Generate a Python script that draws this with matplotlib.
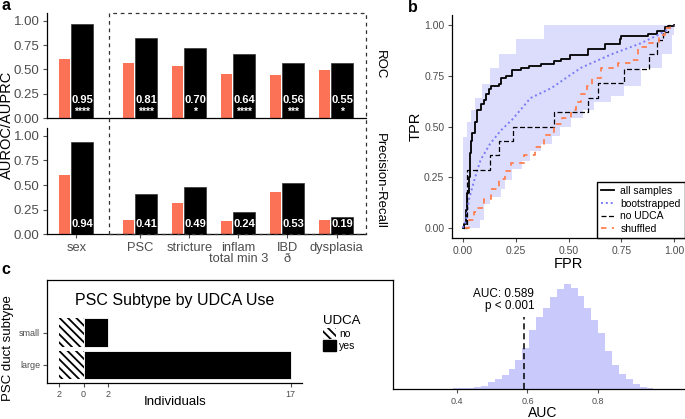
import matplotlib
matplotlib.use('Agg')
import matplotlib.pyplot as plt
import numpy as np
from matplotlib.patches import Rectangle, Patch
from matplotlib.lines import Line2D

plt.rcParams['font.family'] = ['Liberation Sans', 'DejaVu Sans']
plt.rcParams['hatch.linewidth'] = 1.3

# ---------------- data ----------------
# panel a
categories = ['sex', 'PSC', 'stricture', 'inflam\ntotal min 3', 'IBD\nð', 'dysplasia']
cat_pos = [0, 1.3, 2.3, 3.3, 4.3, 5.3]
roc_model = [0.965, 0.825, 0.715, 0.655, 0.57, 0.565]
roc_baseline = [0.605, 0.57, 0.53, 0.45, 0.445, 0.49]
roc_labels = ['0.95', '0.81', '0.70', '0.64', '0.56', '0.55']
roc_stars = ['****', '****', '*', '****', '***', '*']
pr_model = [0.94, 0.41, 0.48, 0.23, 0.525, 0.18]
pr_baseline = [0.60, 0.143, 0.32, 0.135, 0.43, 0.15]
pr_labels = ['0.94', '0.41', '0.49', '0.24', '0.53', '0.19']

# panel b: ROC curves (FPR, TPR)
all_fpr = [0, 0.005, 0.015, 0.02, 0.03, 0.035, 0.04, 0.045, 0.06, 0.07, 0.085, 0.10, 0.11,
           0.125, 0.135, 0.17, 0.18, 0.205, 0.235, 0.275, 0.315, 0.37, 0.43, 0.465, 0.505,
           0.59, 0.67, 0.745, 0.75, 0.875, 0.92, 0.955, 0.97, 1.0]
all_tpr = [0, 0.02, 0.09, 0.17, 0.25, 0.37, 0.43, 0.47, 0.52, 0.58, 0.61, 0.63, 0.66,
           0.685, 0.70, 0.71, 0.74, 0.75, 0.78, 0.79, 0.80, 0.81, 0.825, 0.835, 0.855,
           0.88, 0.905, 0.93, 0.945, 0.955, 0.97, 0.99, 0.995, 1.0]
boot_fpr = [0, 0.015, 0.03, 0.055, 0.085, 0.13, 0.18, 0.235, 0.28, 0.32, 0.42, 0.51, 0.56,
            0.70, 0.84, 0.92, 0.97, 1.0]
boot_tpr = [0, 0.03, 0.14, 0.235, 0.335, 0.415, 0.48, 0.535, 0.59, 0.64, 0.69, 0.755, 0.79,
            0.855, 0.91, 0.95, 0.98, 1.0]
band_up_fpr = [0, 0, 0.02, 0.04, 0.06, 0.09, 0.13, 0.17, 0.25, 0.385, 0.52, 1.0]
band_up_tpr = [0, 0.25, 0.45, 0.52, 0.58, 0.64, 0.71, 0.79, 0.86, 0.93, 1.0, 1.0]
band_lo_fpr = [0, 0.05, 0.08, 0.10, 0.13, 0.18, 0.20, 0.235, 0.28, 0.32, 0.37, 0.42, 0.46,
               0.51, 0.57, 0.62, 0.70, 0.76, 0.84, 0.88, 0.94, 0.99, 1.0]
band_lo_tpr = [0, 0, 0.04, 0.12, 0.15, 0.19, 0.235, 0.29, 0.33, 0.38, 0.415, 0.455, 0.50,
               0.54, 0.58, 0.62, 0.65, 0.70, 0.79, 0.79, 0.86, 0.95, 1.0]
noudca_fpr = [0, 0.02, 0.13, 0.17, 0.24, 0.43, 0.59, 0.64, 0.76, 0.88, 0.92, 0.945, 0.97, 1.0]
noudca_tpr = [0, 0.286, 0.357, 0.429, 0.5, 0.571, 0.643, 0.714, 0.786, 0.857, 0.929, 0.964, 1.0, 1.0]
shuf_fpr = [0.01, 0.03, 0.055, 0.07, 0.10, 0.135, 0.17, 0.20, 0.23, 0.29, 0.34, 0.385, 0.43,
            0.47, 0.51, 0.535, 0.56, 0.585, 0.61, 0.655, 0.735, 0.795, 0.83, 0.875, 0.925,
            0.955, 0.98, 1.0]
shuf_tpr = [0.0, 0.04, 0.08, 0.10, 0.14, 0.19, 0.24, 0.28, 0.32, 0.36, 0.40, 0.46, 0.51,
            0.54, 0.58, 0.62, 0.66, 0.70, 0.74, 0.79, 0.815, 0.83, 0.89, 0.91, 0.95,
            0.985, 0.995, 1.0]

# panel c left: PSC subtype by UDCA use
subtypes = ['large', 'small']
udca_no = [2, 2]
udca_yes = [17, 2]

# panel c right: permutation AUC histogram
auc_bin_left = [0.3710, 0.3905, 0.4100, 0.4295, 0.4490, 0.4685, 0.4880, 0.5075, 0.5270,
                0.5465, 0.5660, 0.5855, 0.6050, 0.6245, 0.6440, 0.6635, 0.6830, 0.7025,
                0.7220, 0.7415, 0.7610, 0.7805, 0.8000, 0.8195, 0.8390, 0.8585, 0.8780,
                0.8975, 0.9170, 0.9365]
auc_counts = [3, 6, 10, 15, 23, 35, 75, 100, 140, 205, 290, 407, 590, 720, 810, 920, 1000,
              1050, 1015, 930, 810, 690, 560, 385, 240, 155, 97, 50, 23, 6]
auc_binwidth = 0.0195
observed_auc = 0.589

# ---------------- figure ----------------
W, H = 685, 419
fig = plt.figure(figsize=(W / 100, H / 100), dpi=100)


def rect(l, t, r, b):
    return [l / W, 1 - b / H, (r - l) / W, (b - t) / H]


def ftext(x, y, s, **kw):
    return fig.text(x / W, 1 - y / H, s, **kw)


GREY = '#4d4d4d'
ORANGE = '#fc7256'


def style(ax, labsize, pad=2.5):
    for s in ['top', 'right']:
        ax.spines[s].set_visible(False)
    for s in ['left', 'bottom']:
        ax.spines[s].set_linewidth(0.9)
    ax.tick_params(colors=GREY, labelcolor=GREY, labelsize=labsize, length=3, width=0.8,
                   pad=pad)


# ---- panel a ----
ax_roc = fig.add_axes(rect(47, 13, 366, 118))
ax_pr = fig.add_axes(rect(47, 128, 366, 234.3))
pos = np.array(cat_pos)
for ax, model, base in [(ax_roc, roc_model, roc_baseline), (ax_pr, pr_model, pr_baseline)]:
    style(ax, 9.5, pad=2.5)
    ax.bar(pos - 0.245, base, width=0.23, color=ORANGE)
    ax.bar(pos + 0.12, model, width=0.45, color='black', edgecolor='#333333', linewidth=0.5)
    ax.set_xlim(-0.6, 5.9)
    ax.set_ylim(0, 1.08)
    ax.set_yticks([0, 0.25, 0.5, 0.75, 1.0])
    ax.set_yticklabels(['0.00', '0.25', '0.50', '0.75', '1.00'])
    ax.set_xticks(cat_pos)
for i, p in enumerate(cat_pos):
    ax_roc.text(p + 0.12, 0.185, roc_labels[i], color='white', fontsize=8, fontweight='bold',
                ha='center', va='center')
    ax_roc.text(p + 0.12, 0.065, roc_stars[i], color='white', fontsize=7.5, fontweight='bold',
                ha='center', va='center')
    ax_pr.text(p + 0.12, 0.10, pr_labels[i], color='white', fontsize=8, fontweight='bold',
               ha='center', va='center')
ax_roc.tick_params(axis='x', length=0, labelbottom=False)
ax_pr.set_xticklabels(categories, fontsize=9.3, linespacing=0.95)

ftext(380, 65, 'ROC', rotation=270, fontsize=9.5, ha='center', va='center')
ftext(380, 181, 'Precision-Recall', rotation=270, fontsize=9.5, ha='center', va='center')
ftext(7, 125, 'AUROC/AUPRC', rotation=90, fontsize=10.5, ha='center', va='center')
fig.patches.append(Rectangle((109 / W, 1 - 234.3 / H), (366 - 109) / W, (234.3 - 13) / H,
                             transform=fig.transFigure, fill=False, linestyle=(0, (3, 3)),
                             linewidth=0.9, edgecolor='#333333'))

# ---- panel b ----
axb = fig.add_axes(rect(452, 15, 685, 238))
style(axb, 7.5)


def step_post(x, y):
    xs, ys = [x[0]], [y[0]]
    for i in range(1, len(x)):
        xs += [x[i], x[i]]
        ys += [y[i - 1], y[i]]
    return xs, ys


def step_pre(x, y):
    xs, ys = [x[0]], [y[0]]
    for i in range(1, len(x)):
        xs += [x[i - 1], x[i]]
        ys += [y[i], y[i]]
    return xs, ys


ux, uy = step_pre(band_up_fpr, band_up_tpr)
lx, ly = step_post(band_lo_fpr, band_lo_tpr)
axb.fill(ux + lx[::-1], uy + ly[::-1], color='#dcdcfd', linewidth=0)
axb.plot(*step_post(all_fpr, all_tpr), color='black', lw=1.3, label='all samples')
axb.plot(boot_fpr, boot_tpr, color='#7b7bf5', lw=1.4, linestyle=(0, (1, 1.5)), label='bootstrapped')
axb.plot(*step_post(noudca_fpr, noudca_tpr), color='black', lw=0.9, linestyle=(0, (4, 2)),
         label='no UDCA')
axb.plot(*step_post(shuf_fpr, shuf_tpr), color='#ff7f50', lw=1.3, linestyle=(0, (3, 3)),
         label='shuffled')
axb.set_xlim(-0.05, 1.05)
axb.set_ylim(-0.05, 1.05)
ticks = [0, 0.25, 0.5, 0.75, 1.0]
tl = ['0.00', '0.25', '0.50', '0.75', '1.00']
axb.set_xticks(ticks)
axb.set_xticklabels(tl)
axb.set_yticks(ticks)
axb.set_yticklabels(tl)
axb.set_xlabel('FPR', fontsize=10.5, labelpad=1)
axb.set_ylabel('TPR', fontsize=10.5, labelpad=1)
leg = axb.legend(loc='lower right', fontsize=7.5, handlelength=1.3, handletextpad=0.6,
                 borderaxespad=0, fancybox=False, edgecolor='black', labelspacing=0.25,
                 borderpad=0.4, framealpha=1)
leg.get_frame().set_linewidth(1.0)

# ---- panel c left ----
axc = fig.add_axes(rect(47, 280, 301.7, 383.3))
style(axc, 6.5, pad=2)
ypos = [1, 2]
axc.barh(ypos, [-v for v in udca_no], height=0.88, color='white', edgecolor='black',
         linewidth=0, hatch='\\\\\\\\')
axc.barh(ypos, udca_yes, height=0.88, color='black', edgecolor='white', linewidth=0.6)
axc.set_xlim(-3, 17.9)
axc.set_ylim(0.433, 3.63)
axc.set_xticks([-2, 0, 2, 17])
axc.set_xticklabels(['2', '0', '2', '17'])
axc.set_yticks(ypos)
axc.set_yticklabels(subtypes)
ftext(175, 402, 'Individuals', fontsize=9.5, ha='center', va='center')
ftext(8, 348, 'PSC duct subtype', rotation=90, fontsize=9.5, ha='center', va='center')
ftext(175, 300.7, 'PSC Subtype by UDCA Use', fontsize=11.5, ha='center', va='center')
fig.lines.append(Line2D([47 / W, 393.3 / W], [1 - 280 / H, 1 - 280 / H], transform=fig.transFigure,
                        color='black', linewidth=0.9))
leg_c = fig.legend(handles=[Patch(facecolor='white', edgecolor='black', linewidth=0, hatch='\\\\\\\\'),
                            Patch(facecolor='black', edgecolor='black')],
                   labels=['no', 'yes'], title='UDCA', loc='upper left',
                   bbox_to_anchor=(323 / W, 1 - 315 / H), frameon=False, fontsize=7.5,
                   title_fontsize=9.5, handlelength=1.2, handleheight=1.2, handletextpad=0.35,
                   labelspacing=0.1, alignment='left', borderaxespad=0, borderpad=0)

# ---- panel c right ----
axh = fig.add_axes(rect(393.3, 280, 685, 389))
style(axh, 6.5)
axh.bar(auc_bin_left, auc_counts, width=auc_binwidth, align='edge', color='#c9c9fb', linewidth=0)
axh.set_xlim(0.221, 1.045)
axh.set_ylim(0, 1090)
axh.set_yticks([])
axh.set_xticks([0.4, 0.6, 0.8])
axh.set_xticklabels(['0.4', '0.6', '0.8'])
axh.plot([observed_auc, observed_auc], [0, 723], color='black', lw=1.1, linestyle=(0, (4, 2.5)))
axh.text(0.619, 890, 'AUC: 0.589\np < 0.001', fontsize=8.5, ha='right', va='center',
         linespacing=0.95)
ftext(543, 413, 'AUC', fontsize=10, ha='center', va='center')

# panel letters
ftext(6, 6, 'a', fontsize=11.5, fontweight='bold', ha='center', va='center')
ftext(413, 7, 'b', fontsize=11.5, fontweight='bold', ha='center', va='center')
ftext(6, 269, 'c', fontsize=11.5, fontweight='bold', ha='center', va='center')

fig.savefig('out.png', dpi=100)
